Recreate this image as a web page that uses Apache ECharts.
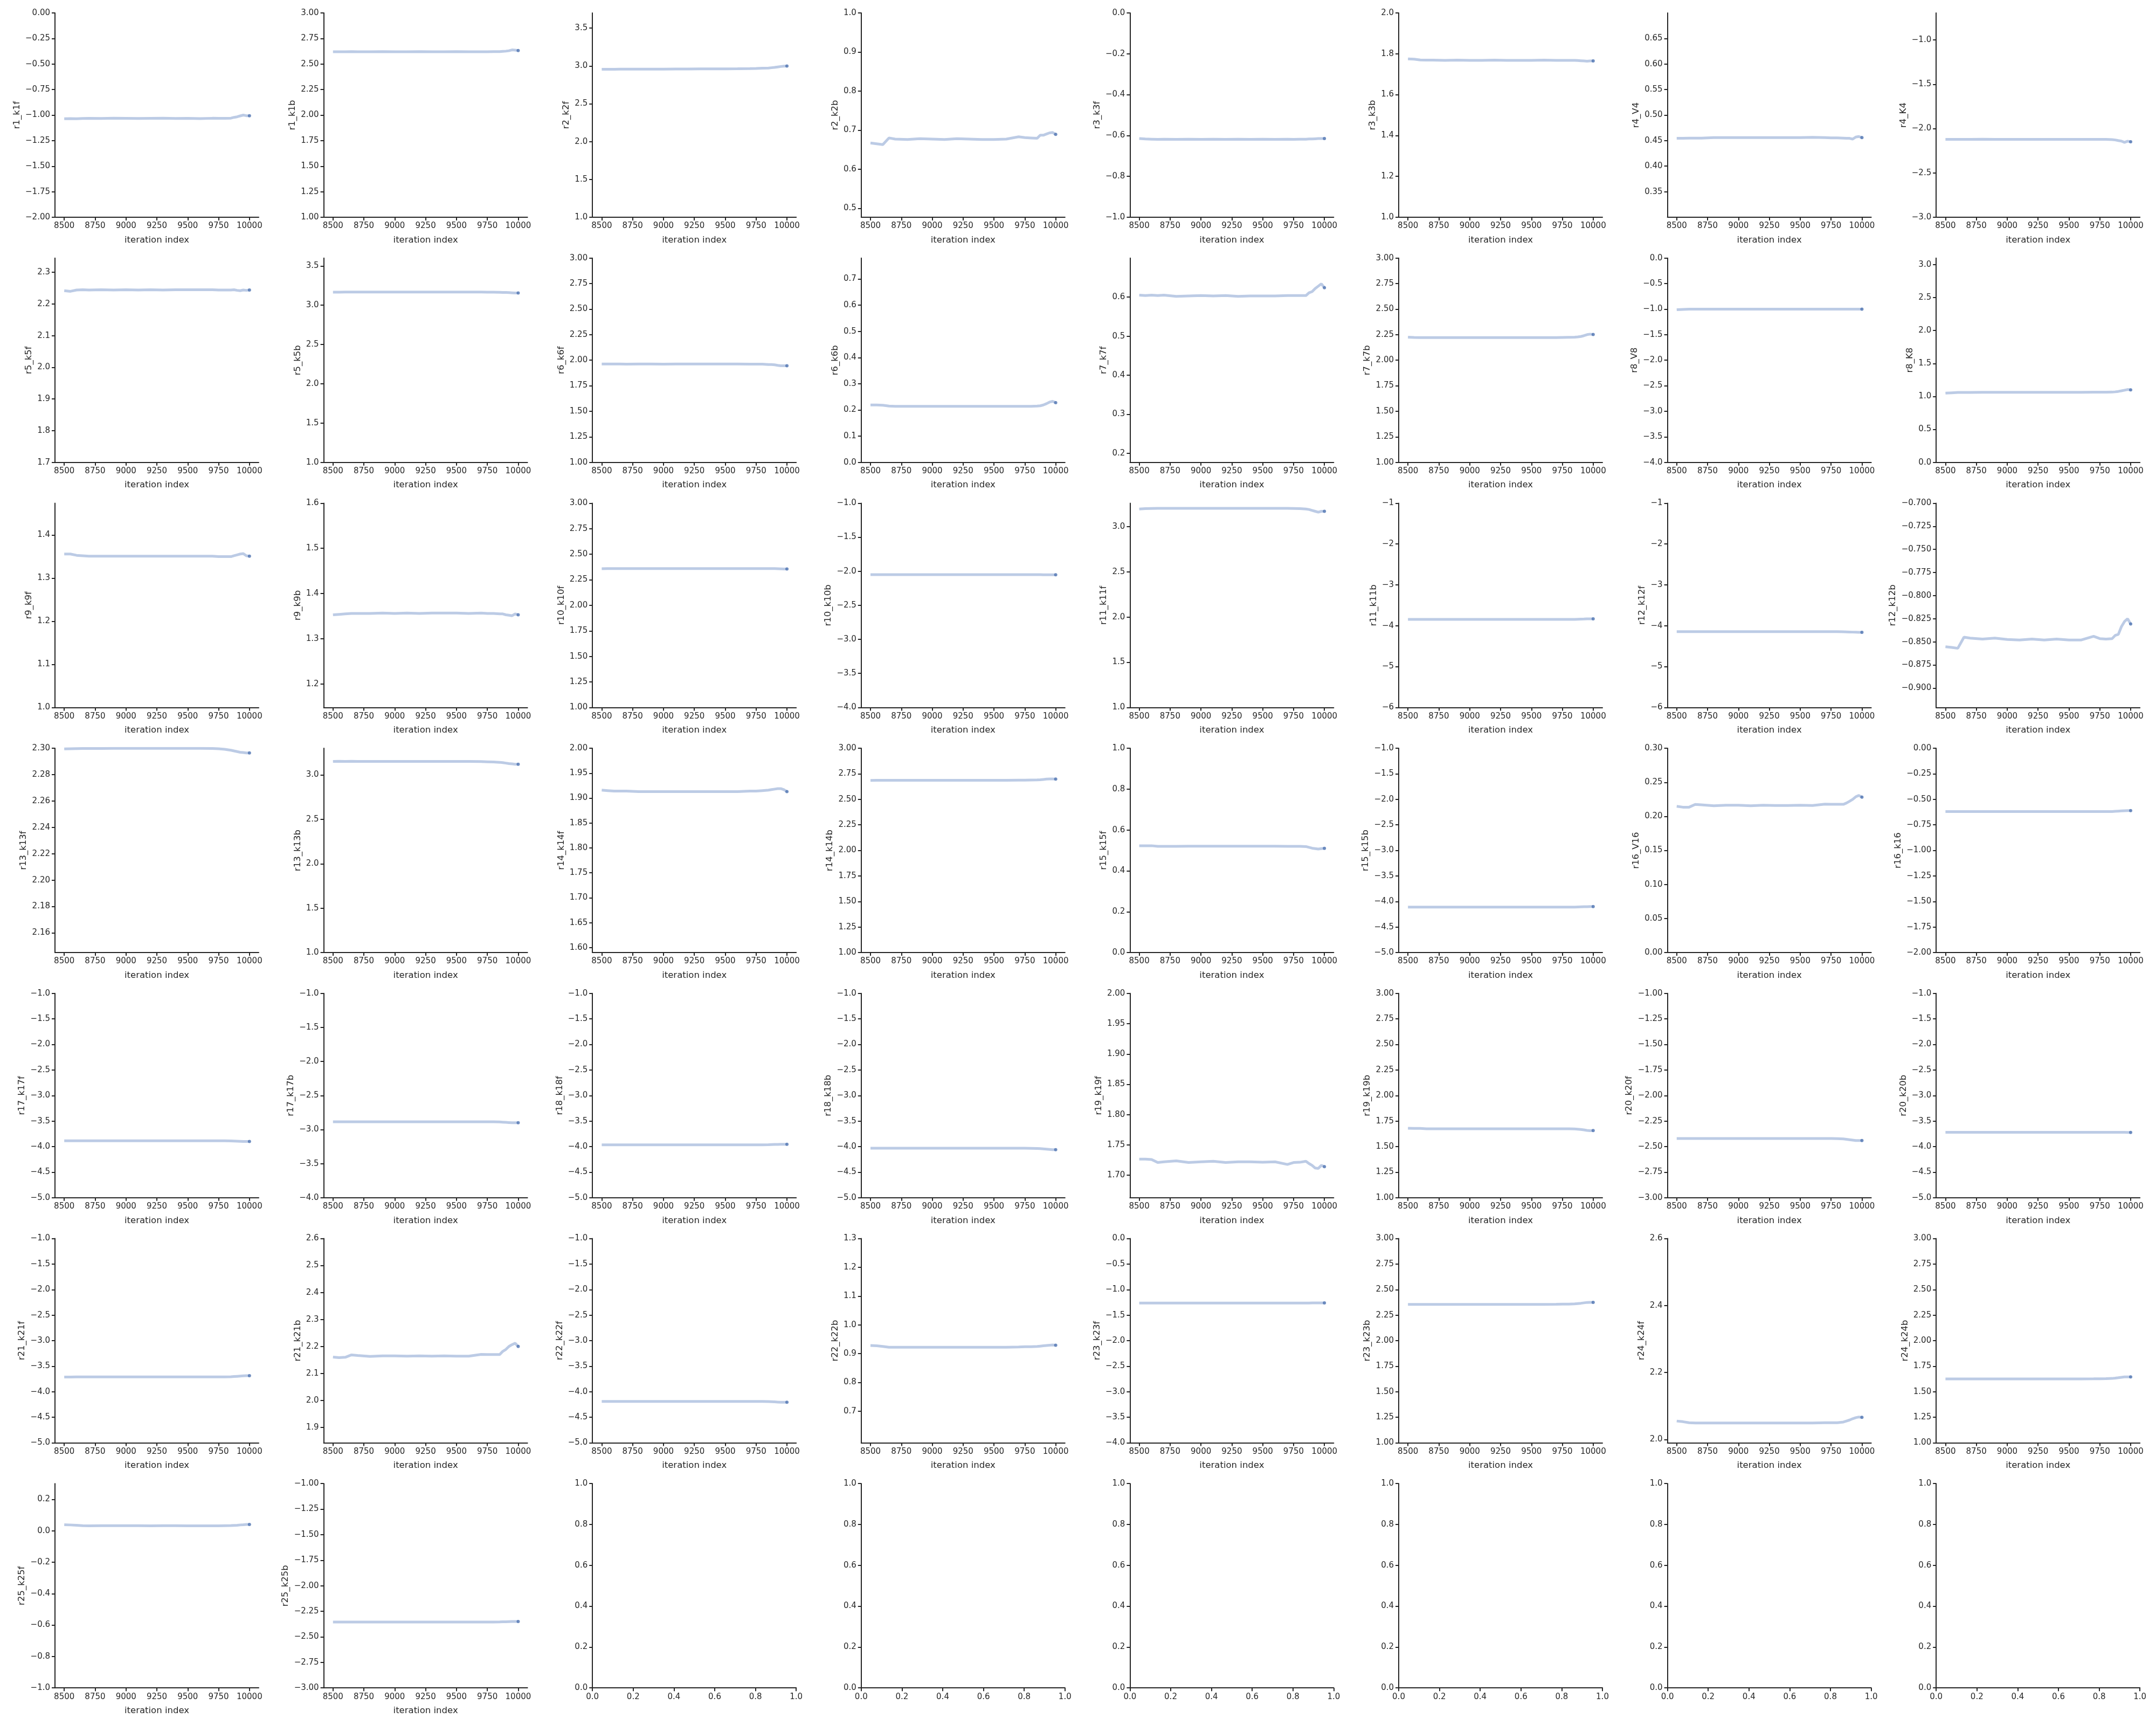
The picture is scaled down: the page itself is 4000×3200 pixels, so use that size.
<!DOCTYPE html>
<html>
<head>
<meta charset="utf-8">
<script src="https://cdn.jsdelivr.net/npm/echarts@6/dist/echarts.min.js"></script>
<style>
html, body { margin: 0; background: #fff; }
#chart { width: 4000px; height: 3200px; }
</style>
</head>
<body>
<div id="chart"></div>
<script>
// sampled iteration indices shared by every trace
var iterations = [8500, 8550, 8600, 8650, 8700, 8800, 8900, 9000, 9100, 9200, 9300, 9400,
                  9500, 9600, 9700, 9750, 9800, 9850, 9875, 9900, 9925, 9950, 9975, 10000];

// traces
var r1_k1f = [-1.035,-1.034,-1.036,-1.033,-1.032,-1.033,-1.031,-1.032,-1.033,-1.032,-1.031,-1.033,-1.032,-1.034,-1.031,-1.032,-1.032,-1.03,-1.022,-1.017,-1.008,-1.0,-1.006,-1.006];
var r1_k1b = [2.62,2.62,2.62,2.621,2.62,2.62,2.621,2.62,2.62,2.621,2.62,2.62,2.621,2.62,2.62,2.62,2.621,2.622,2.624,2.626,2.63,2.638,2.636,2.632];
var r2_k2f = [2.955,2.956,2.956,2.957,2.957,2.958,2.958,2.958,2.959,2.959,2.96,2.96,2.961,2.962,2.964,2.966,2.969,2.972,2.976,2.98,2.986,2.992,2.997,2.999];
var r2_k2b = [0.667,0.665,0.663,0.68,0.677,0.676,0.678,0.677,0.676,0.678,0.677,0.676,0.676,0.677,0.683,0.681,0.68,0.679,0.687,0.687,0.69,0.693,0.694,0.689];
var r3_k3f = [-0.615,-0.617,-0.618,-0.619,-0.618,-0.619,-0.618,-0.619,-0.618,-0.619,-0.618,-0.619,-0.618,-0.619,-0.618,-0.619,-0.618,-0.618,-0.617,-0.617,-0.616,-0.615,-0.615,-0.615];
var r3_k3b = [1.775,1.774,1.77,1.769,1.769,1.768,1.769,1.768,1.768,1.769,1.768,1.768,1.768,1.769,1.768,1.768,1.768,1.768,1.767,1.766,1.765,1.764,1.765,1.765];
var r4_V4 = [0.4545,0.4545,0.455,0.455,0.455,0.456,0.456,0.456,0.456,0.456,0.456,0.456,0.456,0.4565,0.456,0.4555,0.4555,0.455,0.4545,0.4545,0.453,0.457,0.458,0.456];
var r4_K4 = [-2.121,-2.121,-2.121,-2.121,-2.121,-2.12,-2.121,-2.121,-2.121,-2.121,-2.121,-2.121,-2.121,-2.121,-2.121,-2.121,-2.121,-2.124,-2.128,-2.135,-2.141,-2.155,-2.142,-2.149];

var r5_k5f = [2.242,2.24,2.244,2.245,2.244,2.245,2.244,2.245,2.244,2.245,2.244,2.245,2.245,2.245,2.245,2.244,2.244,2.244,2.245,2.243,2.242,2.244,2.243,2.244];
var r5_k5b = [3.165,3.165,3.168,3.168,3.168,3.168,3.167,3.168,3.167,3.168,3.167,3.168,3.167,3.168,3.167,3.165,3.165,3.164,3.163,3.162,3.16,3.158,3.156,3.155];
var r6_k6f = [1.963,1.963,1.963,1.963,1.962,1.963,1.963,1.962,1.963,1.963,1.963,1.963,1.963,1.963,1.962,1.962,1.962,1.958,1.957,1.955,1.95,1.946,1.945,1.946];
var r6_k6b = [0.219,0.219,0.218,0.215,0.214,0.214,0.214,0.214,0.214,0.214,0.214,0.214,0.214,0.214,0.214,0.214,0.214,0.215,0.216,0.219,0.224,0.23,0.233,0.228];
var r7_k7f = [0.605,0.604,0.605,0.604,0.605,0.602,0.603,0.604,0.603,0.604,0.602,0.603,0.603,0.603,0.604,0.604,0.604,0.604,0.611,0.614,0.622,0.628,0.634,0.624];
var r7_k7b = [2.225,2.223,2.222,2.222,2.222,2.222,2.222,2.222,2.222,2.222,2.222,2.222,2.222,2.222,2.222,2.223,2.224,2.225,2.228,2.232,2.24,2.25,2.255,2.252];
var r8_V8 = [-1.01,-1.005,-1.0,-1.0,-1.0,-1.0,-1.0,-1.0,-1.0,-1.0,-1.0,-1.0,-1.0,-1.0,-1.0,-1.0,-1.0,-1.0,-1.0,-1.0,-1.0,-1.0,-1.0,-1.0];
var r8_K8 = [1.05,1.055,1.06,1.06,1.06,1.062,1.062,1.062,1.063,1.063,1.062,1.063,1.063,1.063,1.064,1.064,1.064,1.066,1.07,1.076,1.085,1.095,1.105,1.1];

var r9_k9f = [1.356,1.356,1.353,1.352,1.351,1.351,1.351,1.351,1.351,1.351,1.351,1.351,1.351,1.351,1.351,1.35,1.35,1.35,1.352,1.354,1.356,1.357,1.352,1.351];
var r9_k9b = [1.353,1.354,1.355,1.356,1.356,1.356,1.357,1.356,1.357,1.356,1.357,1.357,1.357,1.356,1.357,1.356,1.356,1.355,1.355,1.353,1.352,1.351,1.355,1.353];
var r10_k10f = [2.358,2.359,2.36,2.36,2.36,2.36,2.36,2.36,2.36,2.36,2.36,2.36,2.36,2.36,2.36,2.36,2.36,2.36,2.36,2.359,2.358,2.357,2.356,2.356];
var r10_k10b = [-2.05,-2.05,-2.05,-2.05,-2.05,-2.05,-2.05,-2.05,-2.05,-2.05,-2.05,-2.05,-2.05,-2.05,-2.05,-2.05,-2.05,-2.05,-2.05,-2.051,-2.051,-2.052,-2.052,-2.052];
var r11_k11f = [3.195,3.2,3.202,3.203,3.203,3.203,3.203,3.203,3.203,3.203,3.203,3.203,3.203,3.203,3.203,3.202,3.2,3.195,3.19,3.18,3.17,3.16,3.17,3.17];
var r11_k11b = [-3.845,-3.845,-3.845,-3.845,-3.845,-3.845,-3.845,-3.845,-3.845,-3.845,-3.845,-3.845,-3.845,-3.845,-3.845,-3.845,-3.845,-3.843,-3.84,-3.837,-3.834,-3.83,-3.83,-3.83];
var r12_k12f = [-4.145,-4.145,-4.145,-4.145,-4.145,-4.145,-4.145,-4.145,-4.145,-4.145,-4.145,-4.145,-4.145,-4.145,-4.145,-4.145,-4.146,-4.148,-4.15,-4.153,-4.156,-4.158,-4.16,-4.16];
var r12_k12b = [-0.8553,-0.856,-0.857,-0.845,-0.846,-0.847,-0.846,-0.8475,-0.848,-0.847,-0.848,-0.847,-0.848,-0.848,-0.844,-0.8465,-0.847,-0.8465,-0.843,-0.842,-0.8336,-0.828,-0.825,-0.8307];

var r13_k13f = [2.2995,2.2996,2.2997,2.2998,2.2998,2.2998,2.2999,2.2999,2.2999,2.2999,2.2999,2.2999,2.2999,2.2999,2.2998,2.2996,2.2992,2.2985,2.298,2.2975,2.297,2.2968,2.2965,2.2965];
var r13_k13b = [3.152,3.153,3.152,3.153,3.152,3.152,3.152,3.152,3.152,3.152,3.152,3.152,3.152,3.152,3.15,3.148,3.146,3.142,3.138,3.133,3.128,3.124,3.12,3.12];
var r14_k14f = [1.916,1.915,1.914,1.914,1.914,1.913,1.913,1.913,1.913,1.913,1.913,1.913,1.913,1.913,1.914,1.914,1.915,1.916,1.917,1.918,1.919,1.919,1.917,1.913];
var r14_k14b = [2.685,2.686,2.687,2.687,2.687,2.687,2.687,2.687,2.687,2.687,2.687,2.687,2.687,2.687,2.688,2.688,2.689,2.69,2.692,2.695,2.698,2.7,2.7,2.699];
var r15_k15f = [0.523,0.523,0.523,0.52,0.52,0.52,0.521,0.521,0.521,0.521,0.521,0.521,0.521,0.521,0.52,0.52,0.52,0.519,0.515,0.511,0.509,0.507,0.509,0.51];
var r15_k15b = [-4.11,-4.11,-4.11,-4.11,-4.11,-4.11,-4.11,-4.11,-4.11,-4.11,-4.11,-4.11,-4.11,-4.11,-4.11,-4.11,-4.11,-4.109,-4.107,-4.105,-4.103,-4.101,-4.1,-4.1];
var r16_V16 = [0.2148,0.2135,0.2135,0.2175,0.217,0.2156,0.2164,0.2164,0.2156,0.2164,0.216,0.216,0.2164,0.216,0.218,0.2177,0.2177,0.2177,0.2196,0.2222,0.2249,0.2288,0.2307,0.2283];
var r16_k16 = [-0.62,-0.62,-0.62,-0.62,-0.62,-0.62,-0.62,-0.62,-0.62,-0.62,-0.62,-0.62,-0.62,-0.62,-0.62,-0.62,-0.62,-0.619,-0.617,-0.615,-0.613,-0.611,-0.61,-0.61];

var r17_k17f = [-3.885,-3.885,-3.885,-3.885,-3.885,-3.885,-3.885,-3.885,-3.885,-3.885,-3.885,-3.885,-3.885,-3.885,-3.885,-3.885,-3.886,-3.888,-3.891,-3.894,-3.897,-3.9,-3.9,-3.9];
var r17_k17b = [-2.885,-2.885,-2.885,-2.885,-2.885,-2.885,-2.885,-2.885,-2.885,-2.885,-2.885,-2.885,-2.885,-2.885,-2.885,-2.885,-2.886,-2.888,-2.891,-2.894,-2.897,-2.9,-2.9,-2.9];
var r18_k18f = [-3.965,-3.965,-3.965,-3.965,-3.965,-3.965,-3.965,-3.965,-3.965,-3.965,-3.965,-3.965,-3.965,-3.965,-3.965,-3.965,-3.964,-3.962,-3.96,-3.958,-3.956,-3.955,-3.955,-3.955];
var r18_k18b = [-4.03,-4.03,-4.03,-4.03,-4.03,-4.03,-4.03,-4.03,-4.03,-4.03,-4.03,-4.03,-4.03,-4.03,-4.03,-4.031,-4.033,-4.036,-4.04,-4.045,-4.05,-4.055,-4.06,-4.06];
var r19_k19f = [1.7267,1.7267,1.726,1.721,1.7222,1.7237,1.721,1.7222,1.7231,1.721,1.7222,1.7222,1.7214,1.7222,1.7178,1.721,1.7214,1.7231,1.7193,1.7163,1.7119,1.7113,1.7163,1.7142];
var r19_k19b = [1.68,1.679,1.678,1.675,1.675,1.675,1.675,1.675,1.675,1.675,1.675,1.675,1.675,1.675,1.674,1.674,1.674,1.673,1.671,1.668,1.664,1.659,1.656,1.657];
var r20_k20f = [-2.42,-2.42,-2.42,-2.42,-2.42,-2.42,-2.42,-2.42,-2.42,-2.42,-2.42,-2.42,-2.42,-2.42,-2.42,-2.421,-2.422,-2.425,-2.428,-2.432,-2.436,-2.44,-2.44,-2.44];
var r20_k20b = [-3.72,-3.72,-3.72,-3.72,-3.72,-3.72,-3.72,-3.72,-3.72,-3.72,-3.72,-3.72,-3.72,-3.72,-3.72,-3.72,-3.72,-3.72,-3.72,-3.72,-3.721,-3.721,-3.722,-3.722];

var r21_k21f = [-3.712,-3.712,-3.711,-3.711,-3.711,-3.711,-3.711,-3.711,-3.711,-3.711,-3.711,-3.711,-3.711,-3.711,-3.71,-3.71,-3.71,-3.708,-3.703,-3.698,-3.693,-3.688,-3.685,-3.687];
var r21_k21b = [2.1607,2.1587,2.16,2.1687,2.1667,2.1633,2.165,2.165,2.164,2.165,2.164,2.165,2.164,2.164,2.1707,2.17,2.17,2.17,2.182,2.189,2.2,2.2067,2.212,2.2];
var r22_k22f = [-4.19,-4.19,-4.19,-4.19,-4.19,-4.19,-4.19,-4.19,-4.19,-4.19,-4.19,-4.19,-4.19,-4.19,-4.19,-4.19,-4.191,-4.193,-4.196,-4.199,-4.202,-4.205,-4.205,-4.205];
var r22_k22b = [0.928,0.927,0.925,0.922,0.922,0.922,0.922,0.922,0.922,0.922,0.922,0.922,0.922,0.922,0.923,0.924,0.924,0.925,0.926,0.927,0.928,0.929,0.93,0.929];
var r23_k23f = [-1.265,-1.265,-1.265,-1.265,-1.265,-1.265,-1.265,-1.265,-1.265,-1.265,-1.265,-1.265,-1.265,-1.265,-1.265,-1.265,-1.265,-1.264,-1.263,-1.262,-1.261,-1.26,-1.26,-1.26];
var r23_k23b = [2.355,2.355,2.355,2.355,2.355,2.355,2.355,2.355,2.355,2.355,2.355,2.355,2.355,2.355,2.356,2.357,2.358,2.36,2.363,2.366,2.37,2.374,2.375,2.375];
var r24_k24f = [2.055,2.053,2.05,2.049,2.049,2.049,2.049,2.049,2.049,2.049,2.049,2.049,2.049,2.049,2.05,2.05,2.05,2.052,2.055,2.058,2.062,2.065,2.067,2.066];
var r24_k24b = [1.625,1.625,1.625,1.625,1.625,1.625,1.625,1.625,1.625,1.625,1.625,1.625,1.625,1.625,1.626,1.627,1.628,1.63,1.633,1.637,1.641,1.645,1.645,1.645];

var r25_k25f = [0.038,0.037,0.035,0.032,0.031,0.032,0.032,0.032,0.032,0.031,0.032,0.032,0.031,0.031,0.031,0.031,0.032,0.033,0.034,0.035,0.037,0.038,0.04,0.04];
var r25_k25b = [-2.355,-2.355,-2.355,-2.355,-2.355,-2.355,-2.355,-2.355,-2.355,-2.355,-2.355,-2.355,-2.355,-2.355,-2.355,-2.355,-2.355,-2.354,-2.353,-2.352,-2.351,-2.35,-2.35,-2.35];

var panelNames = ['r1_k1f','r1_k1b','r2_k2f','r2_k2b','r3_k3f','r3_k3b','r4_V4','r4_K4',
  'r5_k5f','r5_k5b','r6_k6f','r6_k6b','r7_k7f','r7_k7b','r8_V8','r8_K8',
  'r9_k9f','r9_k9b','r10_k10f','r10_k10b','r11_k11f','r11_k11b','r12_k12f','r12_k12b',
  'r13_k13f','r13_k13b','r14_k14f','r14_k14b','r15_k15f','r15_k15b','r16_V16','r16_k16',
  'r17_k17f','r17_k17b','r18_k18f','r18_k18b','r19_k19f','r19_k19b','r20_k20f','r20_k20b',
  'r21_k21f','r21_k21b','r22_k22f','r22_k22b','r23_k23f','r23_k23b','r24_k24f','r24_k24b',
  'r25_k25f','r25_k25b'];

var traces = [r1_k1f, r1_k1b, r2_k2f, r2_k2b, r3_k3f, r3_k3b, r4_V4, r4_K4,
  r5_k5f, r5_k5b, r6_k6f, r6_k6b, r7_k7f, r7_k7b, r8_V8, r8_K8,
  r9_k9f, r9_k9b, r10_k10f, r10_k10b, r11_k11f, r11_k11b, r12_k12f, r12_k12b,
  r13_k13f, r13_k13b, r14_k14f, r14_k14b, r15_k15f, r15_k15b, r16_V16, r16_k16,
  r17_k17f, r17_k17b, r18_k18f, r18_k18b, r19_k19f, r19_k19b, r20_k20f, r20_k20b,
  r21_k21f, r21_k21b, r22_k22f, r22_k22b, r23_k23f, r23_k23b, r24_k24f, r24_k24b,
  r25_k25f, r25_k25b];

// y-axis extent of each panel
var yLimits = [[-2,0],[1,3],[1,3.7],[0.477,1],[-1,0],[1,2],[0.3,0.7],[-3,-0.695],
  [1.7,2.345],[1,3.6],[1,3],[0,0.78],[0.177,0.7],[1,3],[-4,0],[0,3.1],
  [1,1.474],[1.148,1.6],[1,3],[-4,-1],[1,3.26],[-6,-1],[-6,-1],[-0.921,-0.7],
  [2.145,2.3],[1,3.3],[1.59,2],[1,3],[0,1],[-5,-1],[0,0.3],[-2,0],
  [-5,-1],[-4,-1],[-5,-1],[-5,-1],[1.663,2],[1,3],[-3,-1],[-5,-1],
  [-5,-1],[1.843,2.6],[-5,-1],[0.59,1.3],[-4,0],[1,3],[1.99,2.6],[1,3],
  [-1,0.3],[-3,-1]];

// y tick labels: [first, last, step]
var yTicks = [[-2,0,0.25],[1,3,0.25],[1,3.5,0.5],[0.5,1,0.1],[-1,0,0.2],[1,2,0.2],[0.35,0.65,0.05],[-3,-1,0.5],
  [1.7,2.3,0.1],[1,3.5,0.5],[1,3,0.25],[0,0.7,0.1],[0.2,0.6,0.1],[1,3,0.25],[-4,0,0.5],[0,3,0.5],
  [1,1.4,0.1],[1.2,1.6,0.1],[1,3,0.25],[-4,-1,0.5],[1,3,0.5],[-6,-1,1],[-6,-1,1],[-0.9,-0.7,0.025],
  [2.16,2.3,0.02],[1,3,0.5],[1.6,2,0.05],[1,3,0.25],[0,1,0.2],[-5,-1,0.5],[0,0.3,0.05],[-2,0,0.25],
  [-5,-1,0.5],[-4,-1,0.5],[-5,-1,0.5],[-5,-1,0.5],[1.7,2,0.05],[1,3,0.25],[-3,-1,0.25],[-5,-1,0.5],
  [-5,-1,0.5],[1.9,2.6,0.1],[-5,-1,0.5],[0.7,1.3,0.1],[-4,0,0.5],[1,3,0.25],[2,2.6,0.2],[1,3,0.25],
  [-1,0.2,0.2],[-3,-1,0.25]];

var iterTicks = [8500, 8750, 9000, 9250, 9500, 9750, 10000];
var emptyTicks = [0, 0.2, 0.4, 0.6, 0.8, 1.0];

var INK = '#262626';
var FONT = 'DejaVu Sans';
var TICK_SIZE = 15;

function decimalsOf(step) {
  var s = String(step);
  return s.indexOf('.') < 0 ? 0 : s.length - s.indexOf('.') - 1;
}
function fmt(v, d) {
  var s = Math.abs(v) < 1e-12 ? (0).toFixed(d) : v.toFixed(d);
  return s.replace('-', '\u2212');
}
function tickList(spec) {
  var out = [], d = decimalsOf(spec[2]);
  for (var v = spec[0]; v <= spec[1] + spec[2] * 1e-6; v += spec[2]) {
    out.push(parseFloat(v.toFixed(d + 2)));
  }
  return out;
}
var measureCtx = document.createElement('canvas').getContext('2d');
measureCtx.font = TICK_SIZE + 'px "' + FONT + '"';
function labelWidth(vals, d) {
  var w = 0;
  vals.forEach(function (v) { w = Math.max(w, measureCtx.measureText(fmt(v, d)).width); });
  return w;
}

function baseAxis(ticks, d, min, max) {
  return {
    type: 'value', min: min, max: max, scale: true,
    splitLine: { show: false },
    axisLine: { show: true, onZero: false, lineStyle: { color: INK, width: 2 } },
    axisTick: { show: true, length: 6, lineStyle: { color: INK, width: 2 }, customValues: ticks },
    axisLabel: {
      color: INK, fontFamily: FONT, fontSize: TICK_SIZE, margin: 9,
      customValues: ticks,
      formatter: function (v) { return fmt(v, d); }
    },
    nameTextStyle: { color: INK, fontFamily: FONT, fontSize: 16.5 }
  };
}

var grids = [], xAxes = [], yAxes = [], series = [];
for (var p = 0; p < 56; p++) {
  var row = Math.floor(p / 8), col = p % 8;
  grids.push({ left: 102 + 498.6 * col, top: 24 + 454.7 * row, width: 378, height: 379 });

  if (p < traces.length) {
    var xa = baseAxis(iterTicks, 0, 8425, 10075);
    xa.gridIndex = p;
    xa.name = 'iteration index';
    xa.nameLocation = 'middle';
    xa.nameGap = 34;
    xAxes.push(xa);

    var yt = tickList(yTicks[p]), yd = decimalsOf(yTicks[p][2]);
    var ya = baseAxis(yt, yd, yLimits[p][0], yLimits[p][1]);
    ya.gridIndex = p;
    ya.name = panelNames[p];
    ya.nameLocation = 'middle';
    ya.nameGap = 9 + labelWidth(yt, yd) + 7;
    yAxes.push(ya);

    var vals = traces[p];
    series.push({
      type: 'line', xAxisIndex: p, yAxisIndex: p,
      data: iterations.map(function (x, i) { return [x, vals[i]]; }),
      showSymbol: false, silent: true,
      lineStyle: { color: '#bccbe5', width: 5 }, z: 2
    });
    series.push({
      type: 'scatter', xAxisIndex: p, yAxisIndex: p,
      data: [[iterations[iterations.length - 1], vals[vals.length - 1]]],
      symbolSize: 6, itemStyle: { color: '#4c72b0' }, silent: true, z: 3
    });
  } else {
    var ex = baseAxis(emptyTicks, 1, 0, 1);
    ex.gridIndex = p;
    xAxes.push(ex);
    var ey = baseAxis(emptyTicks, 1, 0, 1);
    ey.gridIndex = p;
    yAxes.push(ey);
  }
}

var chart = echarts.init(document.getElementById('chart'), null, { renderer: 'canvas' });
chart.setOption({
  animation: false,
  backgroundColor: '#ffffff',
  grid: grids,
  xAxis: xAxes,
  yAxis: yAxes,
  series: series
});
</script>
</body>
</html>
